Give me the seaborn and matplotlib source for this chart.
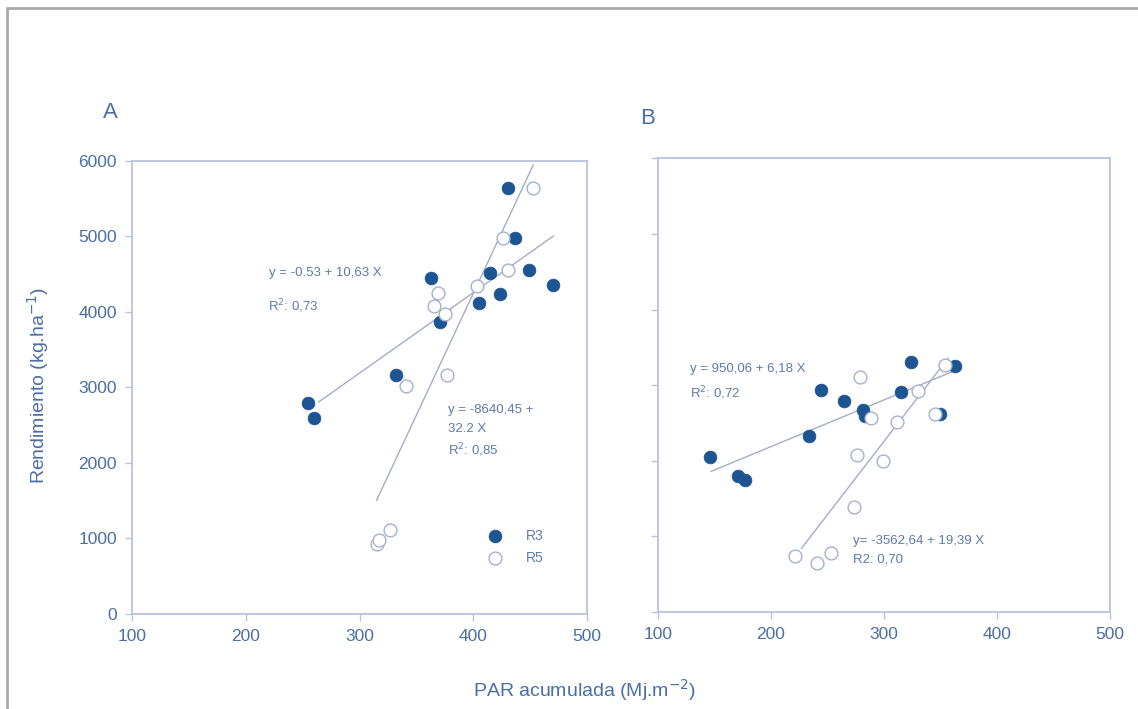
import matplotlib
matplotlib.use("Agg")
import matplotlib.pyplot as plt
import matplotlib.lines as mlines
import seaborn as sns
import numpy as np
import pandas as pd

# ---------------- data ----------------
# Panel A
a_r3_x = [255, 260, 332, 363, 371, 405, 415, 424, 431, 437, 449, 470]
a_r3_y = [2787, 2600, 3163, 4452, 3861, 4121, 4509, 4236, 5635, 4981, 4553, 4359]
a_r5_x = [315, 317, 327, 341, 366, 369, 375, 377, 403, 426, 431, 453]
a_r5_y = [920, 985, 1112, 3018, 4077, 4245, 3971, 3163, 4341, 4973, 4553, 5635]
# Panel B
b_r3_x = [146, 171, 177, 234, 244, 265, 282, 283, 315, 324, 350, 363]
b_r3_y = [2049, 1800, 1745, 2322, 2931, 2786, 2675, 2595, 2910, 3302, 2622, 3258]
b_r5_x = [221, 241, 253, 274, 276, 279, 289, 299, 312, 330, 345, 354]
b_r5_y = [742, 653, 786, 1382, 2079, 3108, 2565, 1991, 2513, 2918, 2622, 3271]

# regression coefficients (intercept, slope) and fitted x ranges
a_r3_fit = (-0.53, 10.63); a_r3_range = (264, 471)
a_r5_fit = (-8640.45, 32.2); a_r5_range = (315, 453)
b_r3_fit = (950.06, 6.18); b_r3_range = (147, 363)
b_r5_fit = (-3562.64, 19.39); b_r5_range = (227, 357)

x_ticks = [100, 200, 300, 400, 500]
y_ticks = [0, 1000, 2000, 3000, 4000, 5000, 6000]

# ---------------- style ----------------
sns.set_theme(style="white")
plt.rcParams['font.family'] = ['Liberation Sans', 'DejaVu Sans']

DARK = "#1d5492"
SPINE = "#b8c3de"
TXT = "#4a6ea6"
ANN = "#5d7bab"
LINE = "#a3adc6"
OPEN_EDGE = "#a5b1cc"

fig = plt.figure(figsize=(11.38, 7.09), dpi=100)
W, H = 1138, 709

def ax_at(l, r, t, b):
    return fig.add_axes([l / W, 1 - b / H, (r - l) / W, (b - t) / H])

axA = ax_at(132.3, 586.7, 160.7, 614.0)
axB = ax_at(657.7, 1110.0, 158.3, 612.0)

def draw(ax, r3x, r3y, r5x, r5y, f3, rg3, f5, rg5):
    for (a, b), (x0, x1) in ((f3, rg3), (f5, rg5)):
        xs = np.array([x0, x1])
        ax.plot(xs, a + b * xs, color=LINE, lw=1.0, zorder=1)
    d3 = pd.DataFrame({"x": r3x, "y": r3y})
    d5 = pd.DataFrame({"x": r5x, "y": r5y})
    sns.scatterplot(data=d3, x="x", y="y", ax=ax, color=DARK, s=85,
                    edgecolor=DARK, linewidth=0.5, zorder=3, label="R3")
    sns.scatterplot(data=d5, x="x", y="y", ax=ax, facecolor="white", s=85,
                    edgecolor=OPEN_EDGE, linewidth=1.0, zorder=4, label="R5")
    ax.set_xlim(100, 500)
    ax.set_ylim(0, 6000)
    ax.set_xticks(x_ticks)
    ax.set_yticks(y_ticks)
    ax.set_xlabel("")
    ax.set_ylabel("")
    for s in ax.spines.values():
        s.set_color(SPINE)
        s.set_linewidth(1.3)
    ax.tick_params(axis="both", direction="out", length=5, width=1,
                   color=SPINE, labelcolor=TXT, labelsize=12.5, pad=6,
                   bottom=True, left=True)

draw(axA, a_r3_x, a_r3_y, a_r5_x, a_r5_y, a_r3_fit, a_r3_range, a_r5_fit, a_r5_range)
draw(axB, b_r3_x, b_r3_y, b_r5_x, b_r5_y, b_r3_fit, b_r3_range, b_r5_fit, b_r5_range)
axB.tick_params(axis="y", labelleft=False)
axB.get_legend().remove()

leg = axA.legend(loc="center left", bbox_to_anchor=(0.74, 0.148), frameon=False,
                 fontsize=10, handletextpad=1.2, labelspacing=0.6,
                 markerscale=1.0)
for t in leg.get_texts():
    t.set_color(ANN)

# annotations placed by pixel position within each axes
ann_kw = dict(color=ANN, fontsize=9.5, va="center", ha="left")
def px_text(ax, l, r, t, b, px, py, s):
    ax.text((px - l) / (r - l), (b - py) / (b - t), s, transform=ax.transAxes, **ann_kw)

A = (132.3, 586.7, 160.7, 614.0)
B = (657.7, 1110.0, 158.3, 612.0)
px_text(axA, *A, 269, 273, "y = -0.53 + 10,63 X")
px_text(axA, *A, 268, 306, "R$^2$: 0,73")
px_text(axA, *A, 448, 410, "y = -8640,45 +")
px_text(axA, *A, 448, 429, "32.2 X")
px_text(axA, *A, 448, 450, "R$^2$: 0,85")
px_text(axB, *B, 690, 369, "y = 950,06 + 6,18 X")
px_text(axB, *B, 690, 393, "R$^2$: 0,72")
px_text(axB, *B, 853, 541, "y= -3562,64 + 19,39 X")
px_text(axB, *B, 853, 559, "R2: 0,70")

# panel letters
fig.text(110 / W, 1 - 112 / H, "A", color=TXT, fontsize=16, ha="center", va="center")
fig.text(648 / W, 1 - 118 / H, "B", color=TXT, fontsize=16, ha="center", va="center")

# axis labels
fig.text(38 / W, 1 - 385 / H, "Rendimiento (kg.ha$^{-1}$)", color=TXT, fontsize=14,
         rotation=90, ha="center", va="center")
fig.text(585 / W, 1 - 690 / H, "PAR acumulada (Mj.m$^{-2}$)", color=TXT, fontsize=14,
         ha="center", va="center")

# outer frame (top and left visible)
fig.add_artist(mlines.Line2D([7 / W, 1.0], [1 - 8 / H, 1 - 8 / H], color="#a9a9a9", lw=2,
                             transform=fig.transFigure))
fig.add_artist(mlines.Line2D([7 / W, 7 / W], [0.0, 1 - 8 / H], color="#a9a9a9", lw=2,
                             transform=fig.transFigure))

fig.savefig("out.png", dpi=100)
